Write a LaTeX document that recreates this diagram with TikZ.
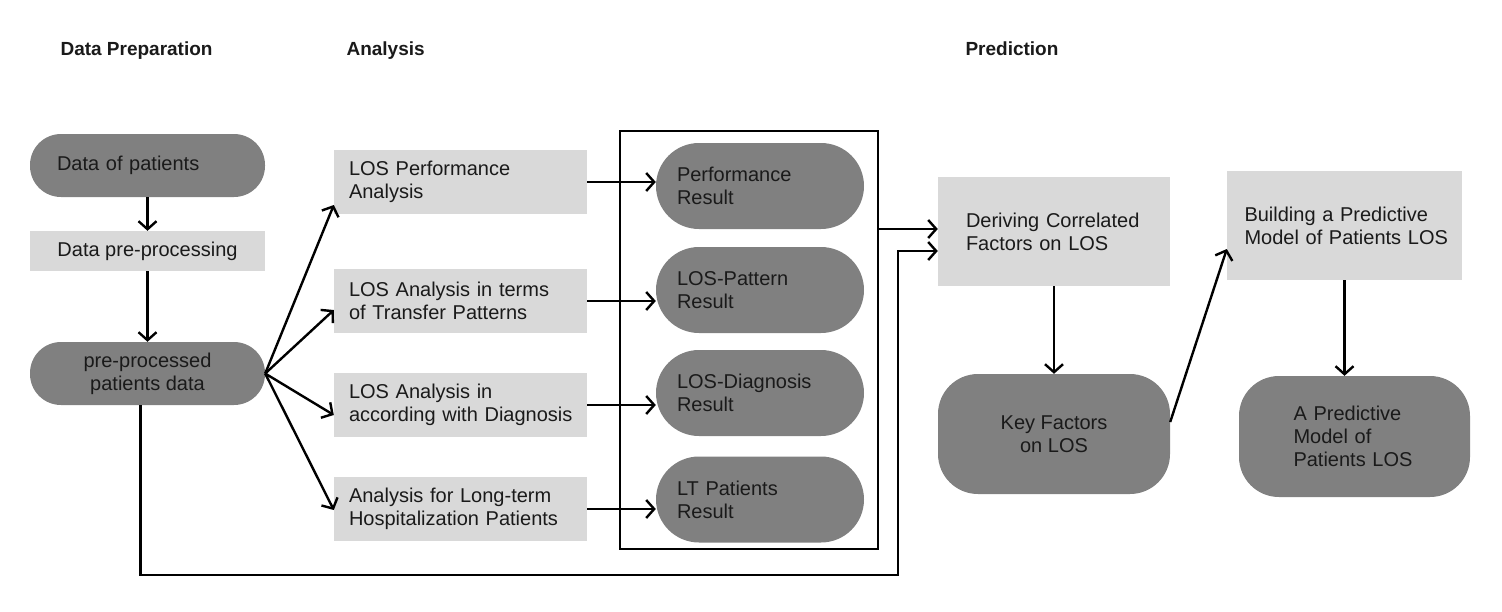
\documentclass[tikz,border=0pt]{standalone}
\usepackage{fontspec}
\setmainfont{Liberation Sans}
\usetikzlibrary{arrows.meta}

\definecolor{pillgray}{HTML}{808080}
\definecolor{boxgray}{HTML}{D9D9D9}
\definecolor{inkgray}{HTML}{1A1A1A}

\tikzset{
  basic/.style={inner sep=0pt, text=inkgray, font=\fontsize{20}{23}\selectfont,
    execute at begin node={\hyphenpenalty=10000\exhyphenpenalty=10000}},
  pill/.style={basic, fill=pillgray, rounded corners=#1},
  pill/.default=31pt,
  stagebox/.style={basic, fill=boxgray},
  anabox/.style={stagebox, minimum width=253pt, minimum height=64pt,
    text width=223pt, align=left},
  respill/.style={pill=43pt, minimum width=208pt, minimum height=86pt,
    text width=166pt, align=left},
  heading/.style={anchor=base west, text=inkgray,
    font=\fontsize{19}{23}\selectfont\bfseries},
  flow/.style={line width=2.4pt, ->}
}

\begin{document}
\begin{tikzpicture}[x=1pt,y=-1pt,>={Straight Barb[length=8pt,width=18pt]}]
  \useasboundingbox (0,0) rectangle (1502,611);

  % column headings
  \node[heading] (hprep) at (57,55) {Data Preparation};
  \node[heading] (hana) at (343,55) {Analysis};
  \node[heading] (hpred) at (962,55) {Prediction};

  % data preparation
  \node[pill, minimum width=235pt, minimum height=63pt, text width=181pt,
    align=left] (patients) at (147.5,165.5) {Data of patients};
  \node[stagebox, minimum width=235pt, minimum height=40pt]
    (prep) at (147.5,251) {Data pre-processing};
  \node[pill, minimum width=235pt, minimum height=63pt, align=center]
    (processed) at (147.5,373.5) {pre-processed\\patients data};

  % analysis
  \node[anabox] (perf) at (460.5,182) {LOS Performance\\Analysis};
  \node[anabox] (transfer) at (460.5,301) {LOS Analysis in terms\\of Transfer Patterns};
  \node[anabox] (diag) at (460.5,405) {LOS Analysis in\\according~with~Diagnosis};
  \node[anabox] (longterm) at (460.5,509) {Analysis for Long-term\\Hospitalization Patients};

  \node[draw, line width=2.4pt, minimum width=258pt, minimum height=418pt]
    (results) at (749,340) {};
  \node[respill] (perfres) at (760,186) {Performance\\Result};
  \node[respill] (transres) at (760,290) {LOS-Pattern\\Result};
  \node[respill] (diagres) at (760,393) {LOS-Diagnosis\\Result};
  \node[respill] (ltres) at (760,499.5) {LT Patients\\Result};

  % prediction
  \node[stagebox, minimum width=232pt, minimum height=109pt, text width=176pt,
    align=left] (deriv) at (1054,231.5) {Deriving Correlated\\Factors on LOS};
  \node[pill=40pt, minimum width=232pt, minimum height=120pt, align=center]
    (keyfac) at (1054,434) {Key Factors\\on LOS};
  \node[stagebox, minimum width=235pt, minimum height=109pt, text width=200pt,
    align=left] (build) at (1344.5,225.5) {Building a Predictive\\Model~of~Patients~LOS};
  \node[pill=40pt, minimum width=231pt, minimum height=121pt, text width=122pt,
    align=left] (model) at (1354.5,436.5) {A Predictive\\Model of\\Patients~LOS};

  \coordinate (derivtop) at ([yshift=2.5pt]deriv.west);
  \coordinate (derivlow) at ([yshift=-19.5pt]deriv.west);
  \coordinate (loopturn) at (898,575);

  \path[flow]
  (patients) edge (prep)
  (prep) edge (processed)

  (processed.east) edge ([yshift=-23pt]perf.west)
  (processed.east) edge ([yshift=-9pt]transfer.west)
  (processed.east) edge ([yshift=-10pt]diag.west)
  (processed.east) edge ([yshift=-1pt]longterm.west)

  (perf.east) edge (perf.east -| perfres.west)
  (transfer.east) edge (transfer.east -| transres.west)
  (diag.east) edge (diag.east -| diagres.west)
  (longterm.east) edge (longterm.east -| ltres.west)

  (results.east |- derivtop) edge (derivtop)
  (deriv) edge (keyfac)
  ([yshift=12pt]keyfac.east) edge ([yshift=-23.5pt]build.west)
  (build.south) edge (build.south |- model.north)
  ;

  \draw[flow] ([xshift=-7pt]processed.south) |- (loopturn) |- (derivlow);
\end{tikzpicture}
\end{document}
